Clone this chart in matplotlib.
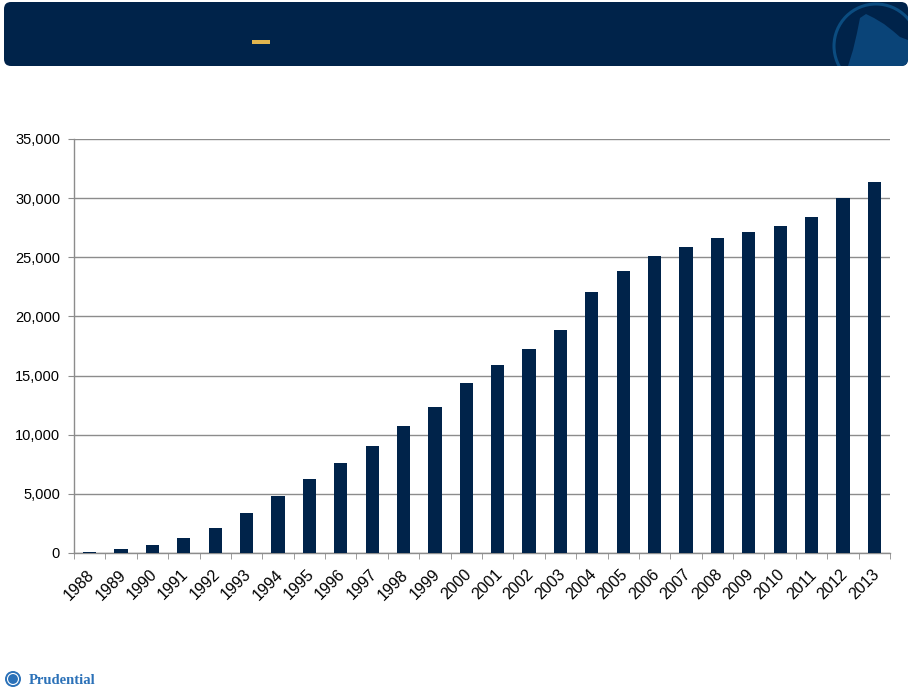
"""Recreate the yearly bar chart slide with header band and footer logo."""

import matplotlib

matplotlib.use("Agg")

import matplotlib.pyplot as plt
import matplotlib.transforms as mtransforms
from matplotlib.patches import Circle, FancyBboxPatch, Polygon, Rectangle
from matplotlib.ticker import FixedLocator, FuncFormatter

plt.rcParams["font.family"] = ["Liberation Sans", "DejaVu Sans"]

# data
years = [str(y) for y in range(1988, 2014)]
values = [
    100, 340, 680, 1270, 2110, 3380, 4820, 6250, 7600, 9040,
    10730, 12340, 14350, 15900, 17250, 18850, 22100, 23800, 25150, 25900,
    26650, 27150, 27680, 28420, 30020, 31400,
]
y_ticks = [0, 5000, 10000, 15000, 20000, 25000, 30000, 35000]

NAVY = "#00234A"
GRID = "#8C8C8C"
W, H = 910, 693

fig = plt.figure(figsize=(W / 100, H / 100), dpi=100)

# slide decoration drawn in pixel coordinates
bg = fig.add_axes([0, 0, 1, 1])
bg.set_xlim(0, W)
bg.set_ylim(H, 0)
bg.axis("off")

header = FancyBboxPatch(
    (4, 2), 904, 64,
    boxstyle="round,pad=0,rounding_size=7",
    facecolor=NAVY, edgecolor="none",
)
bg.add_patch(header)
bg.add_patch(Rectangle((252, 40), 18, 4, facecolor="#E2B54E", edgecolor="none"))

# faint rock logo at the right of the header
rock = Polygon(
    [(848, 66), (853, 50), (857, 33), (860, 18), (866, 14), (874, 18),
     (884, 24), (893, 31), (900, 37), (908, 40), (908, 66)],
    closed=True, facecolor="#0A4478", edgecolor="none",
)
bg.add_patch(rock)
rock.set_clip_path(header)
ring = Circle((876, 46), 42, facecolor="none", edgecolor="#0B4C80", linewidth=2.2)
bg.add_patch(ring)
ring.set_clip_path(header)

# footer logo
bg.add_patch(Circle((13, 679), 8, facecolor="#2B71B8", edgecolor="none"))
bg.add_patch(Circle((13, 679), 5.5, facecolor="none", edgecolor="white", linewidth=0.8))
bg.text(29, 681, "Prudential", fontsize=10.5, fontweight="bold",
        family=["Liberation Serif", "DejaVu Serif"], color="#2B71B8",
        va="center", ha="left")

# main chart
ax = fig.add_axes([74 / W, 1 - 553 / H, (890 - 74) / W, 414 / H])
x = list(range(len(years)))
ax.bar(x, values, width=0.42, color=NAVY, zorder=3)

ax.set_xlim(-0.5, len(years) - 0.5)
ax.set_ylim(0, 35000)
ax.set_yticks(y_ticks)
ax.yaxis.set_major_formatter(FuncFormatter(lambda v, _: f"{v:,.0f}"))
ax.grid(axis="y", color=GRID, linewidth=1.0, zorder=1)

ax.set_xticks(x)
ax.set_xticklabels(years, rotation=45, ha="right", va="top", rotation_mode="anchor")
ax.xaxis.set_minor_locator(FixedLocator([i - 0.5 for i in range(len(years) + 1)]))
ax.tick_params(axis="x", which="major", length=0, pad=10, labelsize=11.5)
ax.tick_params(axis="x", which="minor", length=4, color=GRID, direction="out")
ax.tick_params(axis="y", length=4, color=GRID, labelsize=10.5, pad=6)

shift = mtransforms.ScaledTranslation(-3 / 100, 0, fig.dpi_scale_trans)
for label in ax.get_xticklabels():
    label.set_transform(label.get_transform() + shift)

for side in ("top", "right"):
    ax.spines[side].set_visible(False)
for side in ("left", "bottom"):
    ax.spines[side].set_color(GRID)
    ax.spines[side].set_linewidth(1.0)

fig.savefig("out.png", dpi=100)
